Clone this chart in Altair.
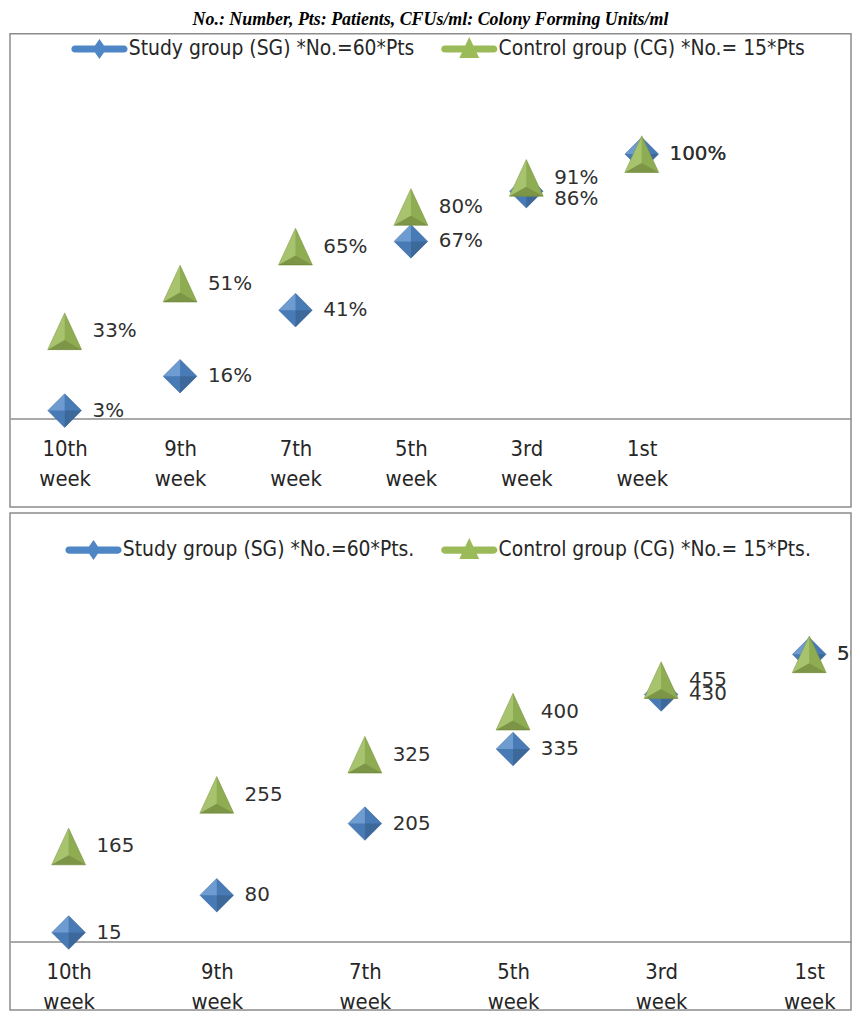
import json
import altair as alt
import pandas as pd

# ---------------- data ----------------
weeks = ["10th week", "9th week", "7th week", "5th week", "3rd week", "1st week"]
sg_pct = [3, 16, 41, 67, 86, 100]
cg_pct = [33, 51, 65, 80, 91, 100]
sg_cfu = [15, 80, 205, 335, 430, 500]
cg_cfu = [165, 255, 325, 400, 455, 500]

top_names = ["Study group (SG) *No.=60*Pts", "Control group (CG) *No.= 15*Pts"]
bottom_names = ["Study group (SG) *No.=60*Pts.", "Control group (CG) *No.= 15*Pts."]
title_text = "No.: Number, Pts: Patients, CFUs/ml: Colony Forming Units/ml"

# ---------------- styles ----------------
BLUE, BLUE_D = "#4f86c6", "#3a6aa6"
GREEN, GREEN_D = "#9bbb59", "#7f9c44"

# marker outlines and bevel facets (pyramid look of the original markers)
DIAMOND = "M0,-0.95L0.95,0L0,0.95L-0.95,0Z"
D_LIGHT = "M0,0L-0.95,0L0,-0.95Z"
D_MID = "M0,0L0,-0.95L0.95,0ZM0,0L-0.95,0L0,0.95Z"
D_DARK = "M0,0L0.95,0L0,0.95Z"
TRIANGLE = "M0,-1.04L0.96,1.04L-0.96,1.04Z"
T_LIGHT = "M0,-1.04L0,0.5L-0.96,1.04Z"
T_MID = "M0,-1.04L0.96,1.04L0,0.5Z"
T_DARK = "M-0.96,1.04L0.96,1.04L0,0.5Z"

BAR = ("M-1.7,-0.25L1.7,-0.25A0.25,0.25 0 0 1 1.7,0.25"
       "L-1.7,0.25A0.25,0.25 0 0 1 -1.7,-0.25Z")
LEG_SG = BAR + "M0,-0.69L0.48,0L0,0.69L-0.48,0Z"
LEG_CG = BAR + "M0,-0.83L0.69,0.62L-0.69,0.62Z"

AXIS_FONT = "DejaVu Sans Condensed, Liberation Sans Narrow, sans-serif"
LABEL_FONT = "DejaVu Sans, sans-serif"
W = 846
MSIZE = 1260
label_expr = "split(" + json.dumps(weeks) + "[datum.value], ' ')"


def make_df(sg, cg, names, fmt, nudge):
    rows = []
    for i, v in enumerate(sg):
        ly = v
        d = cg[i] - v
        if nudge and 0 < d < nudge:
            ly = cg[i] - nudge
        rows.append(dict(idx=i, group=names[0], value=v, label=fmt(v), label_y=ly))
    for i, v in enumerate(cg):
        rows.append(dict(idx=i, group=names[1], value=v, label=fmt(v), label_y=v))
    return pd.DataFrame(rows)


def panel(df, names, xdom, ydom, height, axis_offset, leg_x, leg_y):
    base = alt.Chart(df)
    xs = alt.Scale(domain=xdom, nice=False, zero=False)
    ys = alt.Scale(domain=ydom, nice=False, zero=False)
    x = alt.X("idx:Q", scale=xs, axis=alt.Axis(
        values=list(range(len(weeks))), labelExpr=label_expr, ticks=False, tickSize=0,
        grid=False, domainColor="#8c8c8c", domainWidth=1.5,
        labelFont=AXIS_FONT, labelFontSize=22, labelColor="#262626",
        labelLineHeight=30, labelPadding=20, offset=axis_offset, title=None,
        labelOverlap=False, labelFlush=False, labelBound=False))
    y = alt.Y("value:Q", scale=ys, axis=None)

    layers = []
    specs = [
        (names[0], BLUE, BLUE_D, DIAMOND, [(D_LIGHT, "white", 0.18), (D_MID, "black", 0.08), (D_DARK, "black", 0.22)]),
        (names[1], GREEN, GREEN_D, TRIANGLE, [(T_LIGHT, "white", 0.12), (T_MID, "black", 0.08), (T_DARK, "black", 0.2)]),
    ]
    for name, fill, dark, shape, facets in specs:
        sub = base.transform_filter(alt.datum.group == name)
        layers.append(sub.mark_point(filled=True, opacity=1, size=MSIZE, shape=shape,
                                     fill=fill, stroke=dark, strokeWidth=0.6).encode(x=x, y=y))
        for path, col, op in facets:
            layers.append(sub.mark_point(filled=True, size=MSIZE, shape=path, fill=col,
                                         opacity=op, strokeWidth=0).encode(x="idx:Q", y=alt.Y("value:Q", axis=None)))

    leg = alt.Legend(orient="none", legendX=leg_x, legendY=leg_y, direction="horizontal",
                     title=None, symbolSize=841, symbolStrokeWidth=0, symbolOpacity=1,
                     labelFont=AXIS_FONT, labelFontSize=21, labelColor="#262626",
                     labelOffset=15, columnPadding=26, padding=0, labelLimit=0)
    legend_layer = base.mark_point(filled=True, opacity=0).encode(
        x="idx:Q", y=alt.Y("value:Q", axis=None),
        color=alt.Color("group:N", scale=alt.Scale(domain=names, range=[BLUE, GREEN]), legend=leg),
        shape=alt.Shape("group:N", scale=alt.Scale(domain=names, range=[LEG_SG, LEG_CG]), legend=leg),
    )
    labels = base.mark_text(align="left", baseline="middle", dx=28, font=LABEL_FONT,
                            fontSize=20, color="#303030", clip=True).encode(
        x="idx:Q", y=alt.Y("label_y:Q", axis=None), text="label:N")
    layers += [legend_layer, labels]
    return alt.layer(*layers).properties(width=W, height=height)


# top panel geometry (percent)
top_df = make_df(sg_pct, cg_pct, top_names, lambda v: f"{v}%", 8)
top = panel(top_df, top_names,
            xdom=[-55 / 116.1, (W - 55) / 116.1],
            ydom=[-(506 - 417) / 2.66, (417 - 30) / 2.66],
            height=476, axis_offset=-89, leg_x=75.5, leg_y=0.5)

# bottom panel geometry (CFUs/ml)
bot_df = make_df(sg_cfu, cg_cfu, bottom_names, lambda v: f"{v}", 0)
bottom = panel(bot_df, bottom_names,
               xdom=[-59 / 149.0, (W - 59) / 149.0],
               ydom=[-(1010 - 940.7) / 0.577, (940.7 - 510) / 0.577],
               height=500, axis_offset=-69, leg_x=69.5, leg_y=22.5)

chart = alt.vconcat(top, bottom, spacing=4).resolve_scale(
    x="independent", y="independent", color="independent", shape="independent"
).properties(
    title=alt.TitleParams(text=title_text, font="Liberation Serif", fontSize=18,
                          fontWeight="bold", fontStyle="italic", anchor="middle",
                          offset=4, color="#000000"),
    padding={"left": 1, "top": 0, "right": 0, "bottom": 0},
).configure_view(stroke="#8c8c8c", strokeWidth=1.5)

chart.save("out.html", embed_options={"renderer": "svg", "actions": False})
